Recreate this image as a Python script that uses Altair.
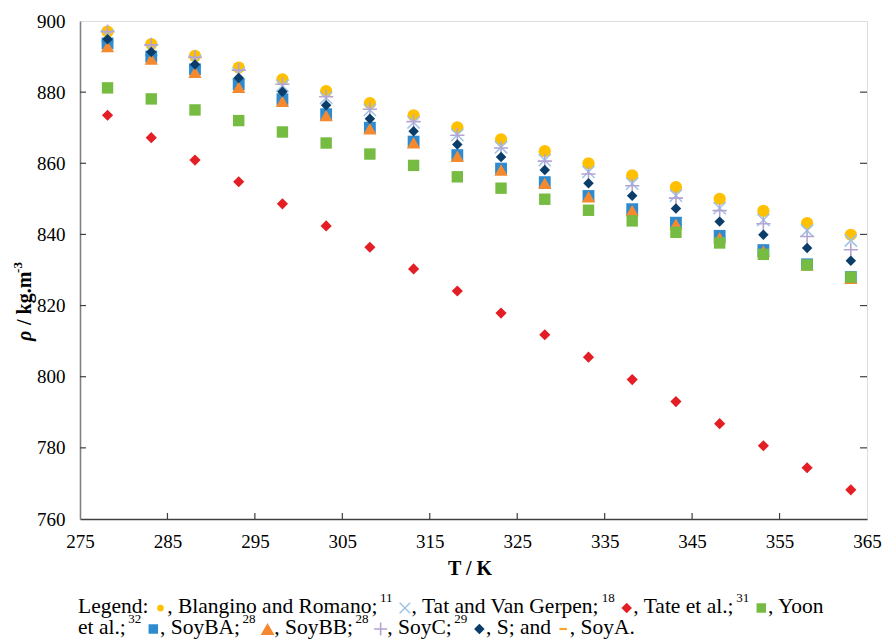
import altair as alt
import pandas as pd

# ---------------- data ----------------
T = [278.15, 283.15, 288.15, 293.15, 298.15, 303.15, 308.15, 313.15, 318.15,
     323.15, 328.15, 333.15, 338.15, 343.15, 348.15, 353.15, 358.15, 363.15]

blangino = [897.0, 893.5, 890.2, 886.9, 883.6, 880.3, 876.9, 873.5, 870.1,
            866.7, 863.4, 860.0, 856.6, 853.3, 850.0, 846.6, 843.2, 839.9]
tat = [895.9, 891.9, 888.7, 885.3, 881.8, 878.4, 875.0, 871.5, 868.0,
       864.5, 860.9, 857.6, 854.3, 850.9, 847.4, 844.1, 841.1, 838.3]
tate = [873.5, 867.2, 860.9, 854.8, 848.6, 842.4, 836.4, 830.3, 824.1,
        817.9, 811.8, 805.5, 799.2, 793.0, 786.8, 780.6, 774.4, 768.2]
yoon = [881.2, 878.1, 875.0, 872.0, 868.8, 865.7, 862.6, 859.4, 856.2,
        853.0, 849.9, 846.8, 843.8, 840.6, 837.6, 834.4, 831.4, 828.0]
soyba = [893.7, 890.0, 886.4, 882.2, 878.0, 873.8, 870.0, 866.1, 862.3,
         858.5, 854.7, 850.8, 847.1, 843.3, 839.6, 835.6, 831.6, 828.0]
soybb = [892.8, 889.3, 885.6, 881.4, 877.4, 873.4, 869.7, 865.8, 862.0,
         858.1, 854.4, 850.6, 846.7, 842.9, 839.1, 835.3, 831.5, 827.7]
soyc = [897.0, 893.3, 889.8, 886.2, 882.2, 878.7, 875.2, 871.7, 867.9,
        864.3, 860.6, 857.0, 853.7, 850.2, 846.7, 843.0, 839.4, 835.7]
s_ser = [894.9, 891.3, 887.8, 884.0, 880.1, 876.3, 872.5, 869.0, 865.3,
         861.8, 858.1, 854.4, 850.9, 847.3, 843.6, 839.9, 836.2, 832.6]
soya = [893.9, 890.3, 886.8, 882.5, 878.2, 874.1, 870.2, 866.4, 862.6,
        858.8, 855.0, 851.2, 847.5, 843.7, 840.0, 836.2, 832.3, 828.4]

x_ticks = [275, 285, 295, 305, 315, 325, 335, 345, 355, 365]
y_ticks = [760, 780, 800, 820, 840, 860, 880, 900]

x_title = "T / K"
y_title_parts = ["ρ", "/ kg.m", "-3"]

# ---------------- styles ----------------
W, H = 787, 498
FONT = "Liberation Serif"
CROSS = "M-1,-1L1,1M-1,1L1,-1"
PLUS = "M-1,0L1,0M0,-1L0,1"
DASH = "M-1,0L1,0"

# key, values, shape, color, size, filled, strokeWidth, legend size
series = [
    ("SoyA", soya, DASH, "#F5A623", 90, False, 2.2, 55),
    ("Blangino", blangino, "circle", "#FFC000", 150, True, 0, 45),
    ("Tat", tat, CROSS, "#9DC3E6", 150, False, 1.5, 110),
    ("Tate", tate, "diamond", "#E31E24", 125, True, 0, 110),
    ("SoyBA", soyba, "square", "#2E8BD0", 140, True, 0, 90),
    ("SoyBB", soybb, "triangle-up", "#F4892F", 175, True, 0, 190),
    ("SoyC", soyc, PLUS, "#B4A3D3", 200, False, 1.6, 170),
    ("S", s_ser, "diamond", "#0B3D6B", 110, True, 0, 110),
    ("Yoon", yoon, "square", "#76BB42", 130, True, 0, 90),
]
style = {k: (shp, col, lsz, fil, sw) for k, _, shp, col, _, fil, sw, lsz in series}

x_scale = alt.Scale(domain=[275, 365], nice=False, zero=False)
y_scale = alt.Scale(domain=[760, 900], nice=False, zero=False)
x_axis = alt.Axis(values=x_ticks, title="", ticks=False, tickSize=0, labelPadding=13,
                  labelFont=FONT, labelFontSize=19, labelColor="#000000", labelFlush=False,
                  domainColor="#404040", domainWidth=1.3, grid=False)
y_axis = alt.Axis(values=y_ticks, title="", ticks=False, tickSize=0, labelPadding=15,
                  labelFont=FONT, labelFontSize=19, labelColor="#000000", labelFlush=False,
                  domainColor="#808080", domainWidth=1.6, grid=False)


def X():
    return alt.X("T:Q", scale=x_scale, axis=x_axis)


def Y():
    return alt.Y("rho:Q", scale=y_scale, axis=y_axis)


layers = []
for key, vals, shape, color, size, filled, sw, _ in series:
    df = pd.DataFrame({"T": T, "rho": vals})
    if filled:
        m = alt.Chart(df).mark_point(shape=shape, filled=True, color=color, size=size, opacity=1)
    else:
        m = alt.Chart(df).mark_point(shape=shape, filled=False, color=color, size=size,
                                     strokeWidth=sw, opacity=1)
    layers.append(m.encode(x=X(), y=Y()))

# inside tick marks
tick_col = "#404040"
bt = pd.DataFrame({"T": x_ticks[1:-1]})
lt = pd.DataFrame({"rho": y_ticks[1:-1]})
layers.append(alt.Chart(bt).mark_rule(color=tick_col, strokeWidth=1.2).encode(
    x=X(), y=alt.value(H), y2=alt.value(H - 6)))
layers.append(alt.Chart(lt).mark_rule(color=tick_col, strokeWidth=1.2).encode(
    y=Y(), x=alt.value(0), x2=alt.value(6)))
layers.append(alt.Chart(lt).mark_rule(color=tick_col, strokeWidth=1.2).encode(
    y=Y(), x=alt.value(W), x2=alt.value(W - 7)))

# ---------------- text layout helpers ----------------
TW = {" ": 250, ",": 250, "-": 333, ".": 250, "/": 278, ":": 278, ";": 278,
      "A": 722, "B": 667, "C": 667, "D": 722, "E": 611, "G": 722, "K": 722, "L": 611,
      "R": 667, "S": 556, "T": 611, "V": 722, "Y": 722,
      "a": 444, "b": 500, "c": 444, "d": 500, "e": 444, "f": 333, "g": 500, "h": 500,
      "i": 278, "k": 500, "l": 278, "m": 778, "n": 500, "o": 500, "p": 500, "r": 333,
      "s": 389, "t": 278, "u": 500, "y": 500, "ρ": 550}
KERN = {"Ta": -80, "Va": -111, "Te": -70, "Yo": -100}


def width(txt, fs):
    w = sum(TW.get(c, 500) for c in txt)
    w += sum(KERN.get(txt[i:i + 2], 0) for i in range(len(txt) - 1))
    return w * fs / 1000.0


def pix(df):
    return dict(x=alt.X("px:Q", scale=None, axis=None), y=alt.Y("py:Q", scale=None, axis=None))


# ---------------- caption ("Legend: ...") ----------------
cap_lines = [
    [("t", "Legend: "), ("m", "Blangino"), ("t", ", Blangino and Romano;"), ("s", "11"), ("t", " "),
     ("m", "Tat"), ("t", ", Tat and Van Gerpen;"), ("s", "18"), ("t", " "),
     ("m", "Tate"), ("t", ", Tate et al.;"), ("s", "31"), ("t", " "),
     ("m", "Yoon"), ("t", ", Yoon")],
    [("t", "et al.;"), ("s", "32"), ("t", " "), ("m", "SoyBA"), ("t", ", SoyBA;"), ("s", "28"), ("t", " "),
     ("m", "SoyBB"), ("t", ", SoyBB;"), ("s", "28"), ("t", " "),
     ("m", "SoyC"), ("t", ", SoyC;"), ("s", "29"), ("t", " "),
     ("m", "S"), ("t", ", S; and "), ("m", "SoyA"), ("t", ", SoyA.")],
]
FS, SUPFS = 21.5, 13
SYMW = 0.62 * FS
CAP_X = -2
CAP_Y = [586, 607]
rows_t, rows_s, rows_m = [], [], []
for li, items in enumerate(cap_lines):
    x = CAP_X
    y = CAP_Y[li]
    for kind, val in items:
        if kind == "t":
            rows_t.append({"px": x, "py": y, "txt": val})
            x += width(val, FS)
        elif kind == "s":
            x += 2.5
            rows_s.append({"px": x, "py": y - 9, "txt": val})
            x += width(val, SUPFS)
        else:
            shp, col, lsz, fil, sw = style[val]
            rows_m.append({"px": x + SYMW / 2, "py": y + 1, "shape": shp,
                           "fill": col if fil else "transparent",
                           "stroke": col if not fil else "transparent",
                           "size": lsz, "sw": sw if not fil else 0})
            x += SYMW

dt = pd.DataFrame(rows_t)
ds = pd.DataFrame(rows_s)
dm = pd.DataFrame(rows_m)
layers.append(alt.Chart(dt).mark_text(font=FONT, fontSize=FS, align="left", baseline="middle",
                                      color="#000000").encode(**pix(dt), text="txt:N"))
layers.append(alt.Chart(ds).mark_text(font=FONT, fontSize=SUPFS, align="left", baseline="middle",
                                      color="#000000").encode(**pix(ds), text="txt:N"))
layers.append(alt.Chart(dm).mark_point(opacity=1).encode(
    **pix(dm),
    shape=alt.Shape("shape:N", scale=None),
    fill=alt.Fill("fill:N", scale=None),
    stroke=alt.Stroke("stroke:N", scale=None),
    size=alt.Size("size:Q", scale=None),
    strokeWidth=alt.StrokeWidth("sw:Q", scale=None)))

# ---------------- axis titles ----------------
dx = pd.DataFrame([{"px": 390, "py": 548, "txt": x_title}])
layers.append(alt.Chart(dx).mark_text(font=FONT, fontSize=20, fontWeight="bold", align="center",
                                      baseline="middle", color="#000000").encode(**pix(dx), text="txt:N"))

TFS = 20
ty0 = 320
yt_x = -55
w0 = 0.55 * TFS + 0.25 * TFS
w1 = width(y_title_parts[1], TFS)
d0 = pd.DataFrame([{"px": yt_x, "py": ty0, "txt": y_title_parts[0]}])
d1 = pd.DataFrame([{"px": yt_x, "py": ty0 - w0, "txt": y_title_parts[1]}])
d2 = pd.DataFrame([{"px": yt_x - 7, "py": ty0 - w0 - w1 - 1, "txt": y_title_parts[2]}])
layers.append(alt.Chart(d0).mark_text(font=FONT, fontSize=TFS, fontWeight="bold", fontStyle="italic",
                                      align="left", baseline="middle", angle=270,
                                      color="#000000").encode(**pix(d0), text="txt:N"))
layers.append(alt.Chart(d1).mark_text(font=FONT, fontSize=TFS, fontWeight="bold",
                                      align="left", baseline="middle", angle=270,
                                      color="#000000").encode(**pix(d1), text="txt:N"))
layers.append(alt.Chart(d2).mark_text(font=FONT, fontSize=13, fontWeight="bold",
                                      align="left", baseline="middle", angle=270,
                                      color="#000000").encode(**pix(d2), text="txt:N"))

chart = alt.layer(*layers).properties(
    width=W, height=H,
    padding={"left": 72, "top": 13, "right": 15, "bottom": 122},
    autosize=alt.AutoSizeParams(type="none"),
).configure_view(stroke="#595959", strokeWidth=1.3).configure_axis(
    labelFont=FONT, labelFontSize=19, labelColor="#000000"
).configure(background="#ffffff")

chart.save("out.html", embed_options={"renderer": "svg", "actions": False})
